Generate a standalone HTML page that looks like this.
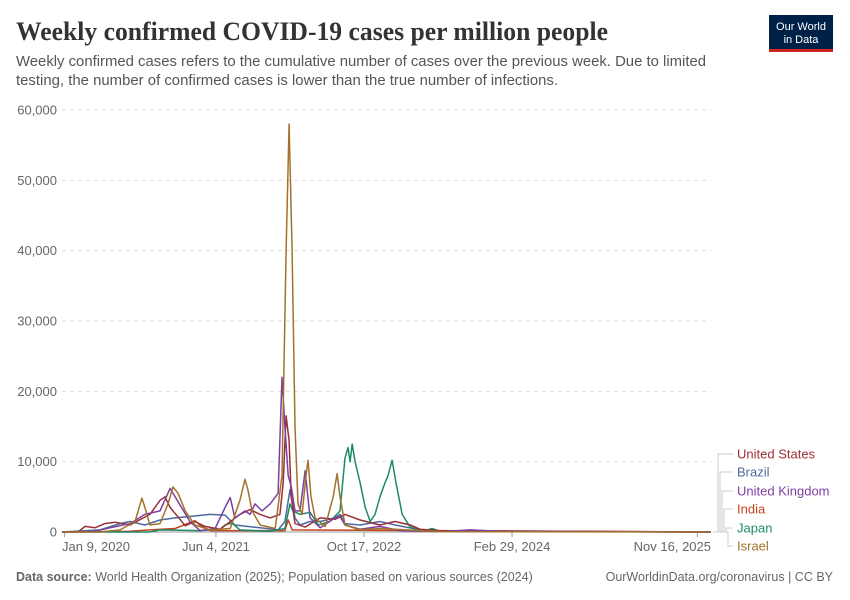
<!DOCTYPE html>
<html><head><meta charset="utf-8"><style>
body{margin:0;background:#fff;}
svg{display:block;font-family:"Liberation Sans",sans-serif;}
</style></head><body>
<svg width="850" height="600" viewBox="0 0 850 600">
<text x="16" y="40" font-family="Liberation Serif,serif" font-weight="bold" font-size="26" fill="#333" textLength="592" lengthAdjust="spacingAndGlyphs">Weekly confirmed COVID-19 cases per million people</text>
<text x="16" y="66" font-size="14.5" fill="#555" textLength="690" lengthAdjust="spacingAndGlyphs">Weekly confirmed cases refers to the cumulative number of cases over the previous week. Due to limited</text>
<text x="16" y="85" font-size="14.5" fill="#555" textLength="542" lengthAdjust="spacingAndGlyphs">testing, the number of confirmed cases is lower than the true number of infections.</text>
<g><rect x="769" y="15" width="64" height="34" fill="#002147"/><rect x="769" y="49" width="64" height="3" fill="#ce261e"/>
<text x="801" y="30" font-size="11" fill="#fff" text-anchor="middle">Our World</text><text x="801" y="43" font-size="11" fill="#fff" text-anchor="middle">in Data</text></g>
<g id="grid"></g><g id="lines"></g><g id="legend"></g>
<text x="16" y="581" font-size="12.5" fill="#666"><tspan font-weight="bold">Data source:</tspan> World Health Organization (2025); Population based on various sources (2024)</text>
<text x="833" y="581" font-size="12.5" fill="#666" text-anchor="end">OurWorldinData.org/coronavirus | CC BY</text>
</svg>
<script>
const yTicks=[0,10000,20000,30000,40000,50000,60000];
const xTickLabels=["Jan 9, 2020","Jun 4, 2021","Oct 17, 2022","Feb 29, 2024","Nov 16, 2025"];
const xTickDays=[8,520,1020,1520,2146];
const seriesNames=["United States","Brazil","United Kingdom","India","Japan","Israel"];
const seriesColors=["#9a2f37","#4c6a9c","#7e3fa0","#c4441c","#1e8a6a","#a2722a"];
// days since Jan 1 2020, values per million
const usDays=[0,54,78,111,145,179,230,297,331,348,365,416,449,483,534,601,635,669,703,736,747,757,767,774,787,821,872,922,956,1007,1074,1125,1176,1209,1277,2192];
const usVals=[0,0,800,600,1200,1400,1000,2500,4500,5000,3500,900,1500,800,400,2500,3200,2500,2000,2500,7000,16500,13000,5000,1200,700,2000,1800,2500,1700,1000,1500,1000,400,200,0];
const brDays=[0,128,196,230,280,331,382,432,500,551,584,669,730,753,770,787,804,838,872,922,939,956,1007,1074,1125,1209,1277,2192];
const brVals=[0,300,1200,1500,1000,1700,2000,2200,2500,2400,1000,600,300,1500,6000,2000,1000,1500,1500,2000,2500,1200,1000,1500,1000,300,100,0];
const ukDays=[0,111,162,230,280,331,365,382,432,466,517,551,568,584,618,635,652,676,703,730,743,753,764,774,787,804,821,838,872,922,939,956,1007,1074,1142,1277,1378,1480,2192];
const ukVals=[0,100,600,1200,2500,3000,6200,5000,1500,200,500,3500,4900,2000,3000,2500,4000,3000,4000,5500,22000,15000,8000,6500,3000,3000,8700,2000,600,2000,2200,1000,400,800,200,50,300,100,0];
const inDays=[0,230,297,382,449,466,500,753,764,777,2192];
const inVals=[0,100,300,500,1600,1000,200,200,1700,300,0];
const jpDays=[0,297,331,466,534,551,574,601,703,753,770,780,804,838,865,905,939,956,966,973,980,990,1007,1024,1041,1057,1074,1091,1101,1115,1128,1149,1176,1209,1226,1250,1277,2192];
const jpVals=[0,0,300,200,400,1000,1300,300,100,500,4000,3000,2500,2800,1000,1500,3000,10500,12000,10000,12500,10000,7000,3500,1500,2500,5000,7000,8000,10200,7000,2500,700,300,200,500,100,0];
const ilDays=[0,128,196,247,264,270,280,297,331,358,375,392,416,449,500,568,601,618,628,642,669,720,743,757,767,777,787,797,811,824,831,841,855,889,916,929,939,956,1007,1074,1209,1277,2192];
const ilVals=[0,0,300,1500,4000,4800,3500,1000,1200,4000,6400,5500,3000,1000,300,500,4500,7500,6000,3000,1000,500,8000,40000,58000,40000,15000,4000,2500,8000,10200,5000,2000,800,5000,8300,5000,1000,300,500,200,50,0];
const seriesDays=[usDays,brDays,ukDays,inDays,jpDays,ilDays];
const seriesVals=[usVals,brVals,ukVals,inVals,jpVals,ilVals];
const NS="http://www.w3.org/2000/svg";
const X0=62,X1=711,Y0=532,Y1=110,DMAX=2192,VMAX=60000;
function xs(d){return X0+(X1-X0)*d/DMAX;}
function ys(v){return Y0-(Y0-Y1)*v/VMAX;}
function mk(t,a,p){const e=document.createElementNS(NS,t);for(const k in a)e.setAttribute(k,a[k]);p.appendChild(e);return e;}
const grid=document.getElementById('grid');
yTicks.forEach(v=>{
  const l=mk('line',{x1:X0,x2:X1,y1:ys(v),y2:ys(v),stroke:v?'#ddd':'#999','stroke-dasharray':v?'4,4':'none'},grid);
  
  
  const t=mk('text',{x:57,y:ys(v)+4.5,'font-size':13,fill:'#666','text-anchor':'end'},grid);
  t.textContent=v.toLocaleString('en-US');
  
  
});
xTickLabels.forEach((s,i)=>{
  const x=xs(xTickDays[i]);
  const tk=mk('line',{x1:x,x2:x,y1:Y0,y2:Y0+5,stroke:'#999'},grid);
  
  
  const anchor=i==0?'start':(i==xTickLabels.length-1?'end':'middle');
  const t=mk('text',{x:i==0?X0:(i==xTickLabels.length-1?X1:x),y:551,'font-size':13,fill:'#666','text-anchor':anchor},grid);
  t.textContent=s;
  
  
});
const lines=document.getElementById('lines');
const order=[1,3,4,0,2,5];
order.forEach(i=>{
  const d=seriesDays[i].map((dd,j)=>(j?'L':'M')+xs(dd).toFixed(1)+','+ys(seriesVals[i][j]).toFixed(1)).join('');
  const p=mk('path',{d:d,fill:'none',stroke:seriesColors[i],'stroke-width':1.5,'stroke-linejoin':'round'},lines);
  
  
});
const lg=document.getElementById('legend');
const ly=[454,472,491,509,528,546];
const bx=[718,720,722,724,726,728];
seriesNames.forEach((n,i)=>{
  const c=mk('path',{d:`M713,532 L${bx[i]},532 L${bx[i]},${ly[i]} L733,${ly[i]}`,fill:'none',stroke:'#ccc'},lg);
  
  
  const t=mk('text',{x:737,y:ly[i]+4.5,'font-size':13,fill:seriesColors[i]},lg);
  t.textContent=n;
  
  
});
</script>
</body></html>
